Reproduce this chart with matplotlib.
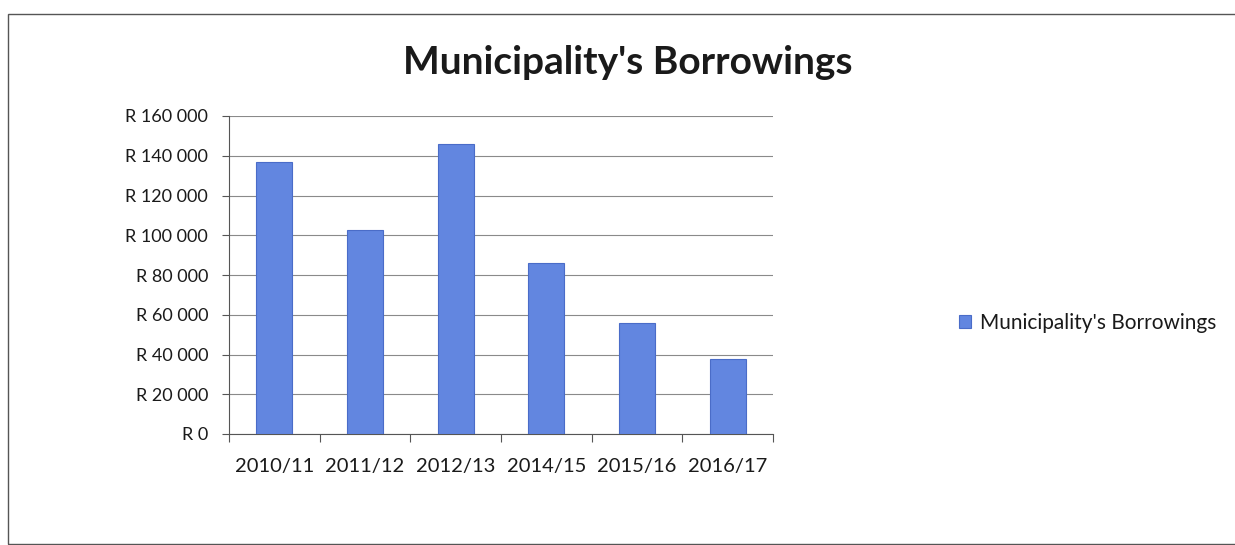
import numpy as np
import matplotlib.pyplot as plt
from matplotlib.patches import Rectangle

# --- data ---
years = ["2010/11", "2011/12", "2012/13", "2014/15", "2015/16", "2016/17"]
borrowings = [137000, 102600, 145800, 85900, 56000, 37600]
y_ticks = [0, 20000, 40000, 60000, 80000, 100000, 120000, 140000, 160000]
y_labels = ["R 0", "R 20 000", "R 40 000", "R 60 000", "R 80 000",
            "R 100 000", "R 120 000", "R 140 000", "R 160 000"]

plt.rcParams['font.family'] = ['Lato', 'DejaVu Sans']

fig = plt.figure(figsize=(12.35, 5.45), dpi=100)
fig.patch.set_facecolor('white')

# outer chart frame
W, H = 1235, 545
fig.add_artist(Rectangle((8 / W, 1 / H), 1.2, (544 - 14) / H, transform=fig.transFigure,
                         fill=False, edgecolor='#555555', linewidth=1.0))

ax = fig.add_axes([229 / W, 1 - 434 / H, (773 - 229) / W, (434 - 116) / H])
x = np.arange(len(years))
bars = ax.bar(x, borrowings, width=0.4, color='#6286e0', edgecolor='#4a6cc8',
              linewidth=0.8, label="Municipality's Borrowings", zorder=3)

ax.set_xlim(-0.5, len(years) - 0.5)
ax.set_ylim(0, 160000)
ax.set_yticks(y_ticks)
ax.set_yticklabels(y_labels, fontsize=13, color='#1a1a1a')
ax.yaxis.grid(True, color='#8a8a8a', linewidth=0.8, zorder=0)

# category boundaries as major ticks, names on minor ticks
ax.set_xticks(np.arange(-0.5, len(years), 1.0))
ax.set_xticklabels([])
ax.set_xticks(x, minor=True)
ax.set_xticklabels(years, minor=True, fontsize=14.5, color='#1a1a1a')
ax.tick_params(axis='x', which='major', length=6, color='#555555', direction='out')
ax.tick_params(axis='x', which='minor', length=0, pad=17)
ax.tick_params(axis='y', length=5, color='#555555', direction='out', pad=10)

for s in ['top', 'right']:
    ax.spines[s].set_visible(False)
ax.spines['left'].set_color('#555555')
ax.spines['bottom'].set_color('#555555')

fig.text(628 / W, 1 - 62 / H, "Municipality's Borrowings", ha='center', va='center',
         fontsize=28, fontweight='bold', color='#1a1a1a')

fig.legend(handles=[bars], loc='center left', bbox_to_anchor=(940 / W, 1 - 323 / H),
           frameon=False, fontsize=15, handlelength=0.6, handleheight=0.6,
           handletextpad=0.4, labelcolor='#1a1a1a')

fig.savefig("out.png", dpi=100)
